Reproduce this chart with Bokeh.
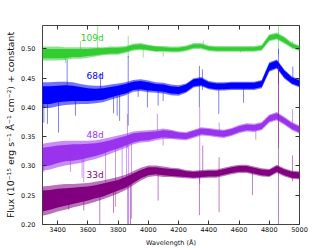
from bokeh.plotting import figure
from bokeh.models import Range1d, LinearAxis, FixedTicker, NumeralTickFormatter
from bokeh.core.properties import value
from bokeh.embed import file_html
from bokeh.resources import INLINE

# ---------------- data ----------------
wl = [3300, 3350, 3400, 3450, 3500, 3550, 3600, 3650, 3700, 3750, 3800, 3850,
      3900, 3950, 4000, 4050, 4100, 4150, 4200, 4250, 4300, 4350, 4400, 4450,
      4500, 4550, 4600, 4650, 4700, 4750, 4800, 4850, 4900, 4950, 5000]

# epoch labels
epochs = ["109d", "68d", "48d", "33d"]
colors = ["#33cc33", "#0000ff", "#9933ee", "#800080"]
label_x = [3705, 3705, 3705, 3705]
label_y = [0.519, 0.454, 0.353, 0.284]

# continuum (centre of the noisy band)
flux_109 = [0.492, 0.492, 0.492, 0.492, 0.493, 0.493, 0.494, 0.495, 0.496, 0.497, 0.497, 0.499,
            0.503, 0.504, 0.502, 0.500, 0.500, 0.499, 0.499, 0.501, 0.505, 0.505, 0.501, 0.500,
            0.500, 0.500, 0.500, 0.500, 0.500, 0.502, 0.519, 0.522, 0.515, 0.506, 0.501]
flux_68 = [0.421, 0.421, 0.423, 0.424, 0.424, 0.423, 0.422, 0.422, 0.423, 0.426, 0.429, 0.432,
           0.437, 0.438, 0.436, 0.434, 0.433, 0.430, 0.429, 0.433, 0.442, 0.444, 0.438, 0.436,
           0.436, 0.437, 0.437, 0.437, 0.437, 0.440, 0.469, 0.474, 0.457, 0.446, 0.441]
flux_48 = [0.315, 0.317, 0.320, 0.322, 0.323, 0.324, 0.326, 0.328, 0.331, 0.335, 0.339, 0.343,
           0.348, 0.350, 0.351, 0.353, 0.355, 0.354, 0.352, 0.351, 0.355, 0.359, 0.358, 0.356,
           0.355, 0.358, 0.363, 0.366, 0.365, 0.368, 0.381, 0.385, 0.377, 0.368, 0.362]
flux_33 = [0.240, 0.242, 0.245, 0.247, 0.249, 0.251, 0.253, 0.256, 0.259, 0.263, 0.267, 0.272,
           0.279, 0.286, 0.291, 0.292, 0.290, 0.289, 0.288, 0.286, 0.285, 0.286, 0.287, 0.287,
           0.290, 0.293, 0.295, 0.295, 0.292, 0.289, 0.288, 0.295, 0.289, 0.285, 0.284]

# half-width of the dense core of the noise band
noise_109 = [0.008, 0.008, 0.008, 0.008, 0.007, 0.007, 0.006, 0.006, 0.005, 0.005, 0.005, 0.004,
             0.004, 0.004, 0.004, 0.004, 0.003, 0.003, 0.003, 0.003, 0.003, 0.003, 0.003, 0.003,
             0.003, 0.003, 0.003, 0.003, 0.003, 0.003, 0.004, 0.004, 0.004, 0.003, 0.003]
noise_68 = [0.015, 0.015, 0.014, 0.014, 0.013, 0.012, 0.011, 0.010, 0.010, 0.009, 0.008, 0.008,
            0.007, 0.007, 0.007, 0.006, 0.006, 0.006, 0.006, 0.006, 0.006, 0.006, 0.005, 0.005,
            0.005, 0.005, 0.005, 0.005, 0.005, 0.005, 0.006, 0.006, 0.006, 0.005, 0.005]
noise_48 = [0.016, 0.016, 0.015, 0.014, 0.014, 0.013, 0.012, 0.011, 0.010, 0.009, 0.009, 0.008,
            0.008, 0.007, 0.007, 0.006, 0.006, 0.006, 0.005, 0.005, 0.005, 0.005, 0.005, 0.005,
            0.005, 0.005, 0.005, 0.005, 0.005, 0.005, 0.005, 0.005, 0.005, 0.005, 0.005]
noise_33 = [0.018, 0.017, 0.016, 0.015, 0.014, 0.013, 0.012, 0.011, 0.011, 0.010, 0.009, 0.009,
            0.008, 0.007, 0.007, 0.006, 0.006, 0.006, 0.006, 0.005, 0.005, 0.005, 0.005, 0.005,
            0.005, 0.005, 0.005, 0.005, 0.005, 0.005, 0.005, 0.005, 0.005, 0.005, 0.005]

# half-width of the sparse outer fringe of the noise band
fringe_109 = [0.012, 0.012, 0.012, 0.011, 0.010, 0.010, 0.009, 0.008, 0.007, 0.007, 0.007, 0.006,
              0.006, 0.006, 0.005, 0.005, 0.005, 0.005, 0.005, 0.005, 0.005, 0.005, 0.005, 0.005,
              0.005, 0.005, 0.005, 0.005, 0.005, 0.005, 0.006, 0.006, 0.006, 0.005, 0.005]
fringe_68 = [0.022, 0.022, 0.021, 0.020, 0.019, 0.017, 0.016, 0.015, 0.014, 0.013, 0.012, 0.011,
             0.010, 0.010, 0.010, 0.009, 0.009, 0.009, 0.009, 0.008, 0.008, 0.008, 0.007, 0.007,
             0.007, 0.007, 0.007, 0.007, 0.007, 0.007, 0.008, 0.008, 0.008, 0.007, 0.007]
fringe_48 = [0.023, 0.023, 0.022, 0.021, 0.020, 0.019, 0.017, 0.016, 0.015, 0.014, 0.013, 0.012,
             0.011, 0.010, 0.010, 0.009, 0.009, 0.008, 0.007, 0.007, 0.007, 0.007, 0.007, 0.007,
             0.007, 0.007, 0.007, 0.007, 0.007, 0.007, 0.007, 0.007, 0.007, 0.007, 0.007]
fringe_33 = [0.025, 0.024, 0.023, 0.022, 0.020, 0.019, 0.018, 0.017, 0.016, 0.015, 0.014, 0.013,
             0.012, 0.011, 0.010, 0.009, 0.009, 0.008, 0.008, 0.007, 0.007, 0.007, 0.007, 0.007,
             0.007, 0.007, 0.007, 0.007, 0.007, 0.007, 0.007, 0.007, 0.007, 0.007, 0.007]

# narrow spikes (wavelength, low flux, high flux)
spk_109_wl = [3452, 3551, 3665, 3867, 3966, 4098, 4363, 4610, 4861, 4954]
spk_109_lo = [0.476, 0.492, 0.497, 0.485, 0.485, 0.487, 0.500, 0.494, 0.490, 0.500]
spk_109_hi = [0.495, 0.513, 0.540, 0.522, 0.503, 0.500, 0.514, 0.500, 0.540, 0.513]

spk_68_wl = [3309, 3333, 3406, 3463, 3518, 3684, 3770, 3794, 3810, 3867, 3933, 3994,
             4065, 4098, 4338, 4358, 4466, 4630, 4861, 4956]
spk_68_lo = [0.374, 0.372, 0.357, 0.420, 0.386, 0.420, 0.390, 0.386, 0.377, 0.369, 0.418, 0.400,
             0.403, 0.411, 0.400, 0.430, 0.389, 0.408, 0.440, 0.440]
spk_68_hi = [0.430, 0.430, 0.420, 0.482, 0.420, 0.459, 0.425, 0.425, 0.430, 0.488, 0.437, 0.435,
             0.434, 0.433, 0.471, 0.465, 0.436, 0.437, 0.500, 0.470]

spk_48_wl = [3309, 3485, 3562, 3573, 3717, 3783, 3827, 3856, 3862, 3870, 3889, 4060,
             4098, 4340, 4469, 4711, 4861, 4954]
spk_48_lo = [0.290, 0.290, 0.280, 0.272, 0.272, 0.230, 0.270, 0.265, 0.330, 0.200, 0.210, 0.350,
             0.335, 0.270, 0.350, 0.345, 0.330, 0.362]
spk_48_hi = [0.330, 0.325, 0.330, 0.325, 0.330, 0.335, 0.340, 0.345, 0.389, 0.350, 0.350, 0.389,
             0.355, 0.400, 0.374, 0.366, 0.470, 0.397]

spk_33_wl = [3474, 3573, 3679, 3770, 3864, 3882, 4065, 4338, 4360, 4468, 4689, 4861, 4954]
spk_33_lo = [0.225, 0.224, 0.200, 0.220, 0.200, 0.200, 0.241, 0.216, 0.285, 0.221, 0.250, 0.200, 0.274]
spk_33_hi = [0.250, 0.250, 0.255, 0.265, 0.270, 0.275, 0.290, 0.290, 0.335, 0.315, 0.290, 0.470, 0.318]

x_ticks = [3400, 3600, 3800, 4000, 4200, 4400, 4600, 4800, 5000]
y_ticks = [0.20, 0.25, 0.30, 0.35, 0.40, 0.45, 0.50]

# ---------------- figure ----------------
FONT = "DejaVu Sans"
p = figure(width=332, height=251, output_backend="svg", toolbar_location=None,
           x_range=Range1d(3300, 5000), y_range=Range1d(0.20, 0.54),
           min_border_left=42, min_border_right=33, min_border_top=25, min_border_bottom=27,
           x_axis_label="Wavelength (\u00c5)",
           y_axis_label="Flux (10\u207b\u00b9\u2075 erg s\u207b\u00b9 \u00c5\u207b\u00b9 cm\u207b\u00b2) + constant")
p.grid.visible = False
p.outline_line_color = "#444444"
p.outline_line_width = 1
p.background_fill_color = "white"
p.border_fill_color = "white"

series = [
    (flux_109, noise_109, fringe_109, spk_109_wl, spk_109_lo, spk_109_hi),
    (flux_68, noise_68, fringe_68, spk_68_wl, spk_68_lo, spk_68_hi),
    (flux_48, noise_48, fringe_48, spk_48_wl, spk_48_lo, spk_48_hi),
    (flux_33, noise_33, fringe_33, spk_33_wl, spk_33_lo, spk_33_hi),
]
for (flux, noise, fringe, swl, slo, shi), col in zip(series, colors):
    p.varea(x=wl, y1=[f - n for f, n in zip(flux, fringe)],
            y2=[f + n for f, n in zip(flux, fringe)], fill_color=col, fill_alpha=0.55)
    p.varea(x=wl, y1=[f - n for f, n in zip(flux, noise)],
            y2=[f + n for f, n in zip(flux, noise)], fill_color=col, fill_alpha=1.0)
    p.segment(x0=swl, y0=slo, x1=swl, y1=shi, line_color=col, line_alpha=0.5, line_width=1)

for name, col, lx, ly in zip(epochs, colors, label_x, label_y):
    p.text(x=[lx], y=[ly], text=[name], text_color=col, text_font=value(FONT),
           text_font_size="9px", text_align="right", text_baseline="middle")


def style(ax, ticks, show_labels):
    ax.ticker = FixedTicker(ticks=ticks)
    ax.major_tick_in = 4
    ax.major_tick_out = 0
    ax.minor_tick_line_color = None
    ax.axis_line_color = None
    ax.major_tick_line_color = "#333333"
    ax.major_label_text_font = FONT
    ax.major_label_text_color = "#111111"
    ax.major_label_text_font_size = "6.5px"
    if not show_labels:
        ax.major_label_text_color = None
        ax.major_label_standoff = 0


xa = p.xaxis[0]
style(xa, x_ticks, True)
xa.major_label_standoff = 2
xa.axis_label_standoff = 4
xa.axis_label_text_font = FONT
xa.axis_label_text_font_size = "6.5px"
xa.axis_label_text_font_style = "normal"
xa.axis_label_text_color = "#111111"

ya = p.yaxis[0]
style(ya, y_ticks, True)
ya.formatter = NumeralTickFormatter(format="0.00")
ya.major_label_standoff = 7
ya.axis_label_standoff = 2
ya.axis_label_text_font = FONT
ya.axis_label_text_font_size = "9.3px"
ya.axis_label_text_font_style = "normal"
ya.axis_label_text_color = "#111111"

top = LinearAxis()
style(top, x_ticks, False)
p.add_layout(top, "above")
right = LinearAxis()
style(right, y_ticks, False)
p.add_layout(right, "right")

open("out.html", "w").write(file_html(p, INLINE))
